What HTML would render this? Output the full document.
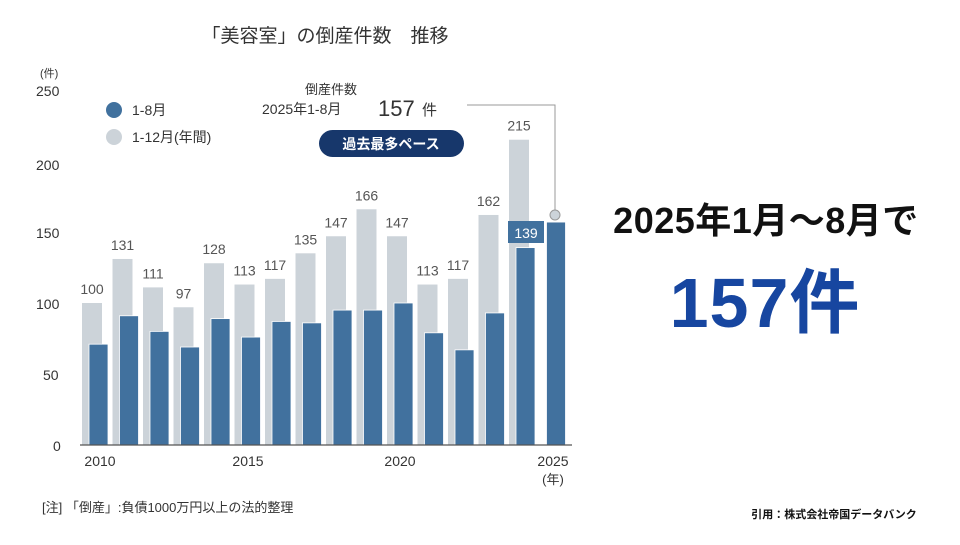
<!DOCTYPE html>
<html><head><meta charset="utf-8"><style>
body{margin:0;background:#fff;width:960px;height:540px;overflow:hidden}
svg{font-family:"Liberation Sans","Noto Sans CJK JP",sans-serif}
</style></head><body>
<svg width="960" height="540" viewBox="0 0 960 540">
<text x="325" y="42" font-size="19" fill="#333" text-anchor="middle">「美容室」の倒産件数　推移</text>
<g font-size="13" fill="#333">
<text x="40" y="77" font-size="11">(件)</text>
<text x="36" y="96" font-size="14">250</text>
<text x="36" y="170" font-size="14">200</text>
<text x="36" y="238" font-size="14">150</text>
<text x="36" y="309" font-size="14">100</text>
<text x="43" y="380" font-size="14">50</text>
<text x="53" y="451" font-size="14">0</text>
</g>
<circle cx="114" cy="110" r="8" fill="#41719e"/>
<text x="132" y="115" font-size="14" fill="#333">1-8月</text>
<circle cx="114" cy="137" r="8" fill="#ccd3d9"/>
<text x="132" y="142" font-size="14" fill="#333">1-12月(年間)</text>
<g id="bars"></g>
<line x1="80" y1="445" x2="572" y2="445" stroke="#555" stroke-width="1.2"/>
<g font-size="14" fill="#333">
<text x="100" y="466" text-anchor="middle">2010</text>
<text x="248" y="466" text-anchor="middle">2015</text>
<text x="400" y="466" text-anchor="middle">2020</text>
<text x="553" y="466" text-anchor="middle">2025</text>
<text x="553" y="484" text-anchor="middle" font-size="13">(年)</text>
</g>
<text x="42" y="512" font-size="13" fill="#333">[注] 「倒産」:負債1000万円以上の法的整理</text>
<text x="331" y="94" font-size="13" fill="#333" text-anchor="middle">倒産件数</text>
<text x="262" y="114" font-size="14" fill="#333">2025年1-8月</text>
<text x="378" y="116" font-size="22" fill="#333">157</text>
<text x="422" y="115" font-size="15" fill="#333">件</text>
<rect x="319" y="130" width="145" height="27" rx="13.5" fill="#17376b"/>
<text x="391" y="149" font-size="14" fill="#fff" font-weight="bold" text-anchor="middle">過去最多ペース</text>
<polyline points="467,105 555,105 555,210" fill="none" stroke="#999" stroke-width="1"/>
<circle cx="555" cy="215" r="5" fill="#ccd3d9" stroke="#999"/>
<text x="766" y="233" font-size="36" font-weight="bold" fill="#111" text-anchor="middle" letter-spacing="0.5">2025年1月～8月で</text>
<text x="765" y="327" font-size="70" font-weight="bold" fill="#1746a0" text-anchor="middle" letter-spacing="1">157件</text>
<text x="834" y="518" font-size="11" font-weight="bold" fill="#111" text-anchor="middle">引用：株式会社帝国データバンク</text>
</svg>
<script>
var b=[71,91,80,69,89,76,87,86,95,95,100,79,67,93,139,157],g=[100,131,111,97,128,113,117,135,147,166,147,113,117,162,215,null];
var s='';for(var i=0;i<16;i++){var x=89+30.5*i;
if(g[i]){var h=g[i]*1.42;s+='<rect x="'+(x-7)+'" y="'+(445-h)+'" width="20" height="'+h+'" fill="#ccd3d9"/>';
s+='<text x="'+(x+3)+'" y="'+(445-h-9)+'" font-size="14" fill="#555" text-anchor="middle">'+g[i]+'</text>';}
var hb=b[i]*1.42;s+='<rect x="'+x+'" y="'+(445-hb)+'" width="19" height="'+hb+'" fill="#41719e" stroke="#fff" stroke-width="0.8"/>';}
s+='<rect x="508" y="221" width="36" height="22" fill="#41719e"/><text x="526" y="238" font-size="14" fill="#fff" text-anchor="middle">139</text>';
document.getElementById('bars').innerHTML=s;
</script>
</body></html>
